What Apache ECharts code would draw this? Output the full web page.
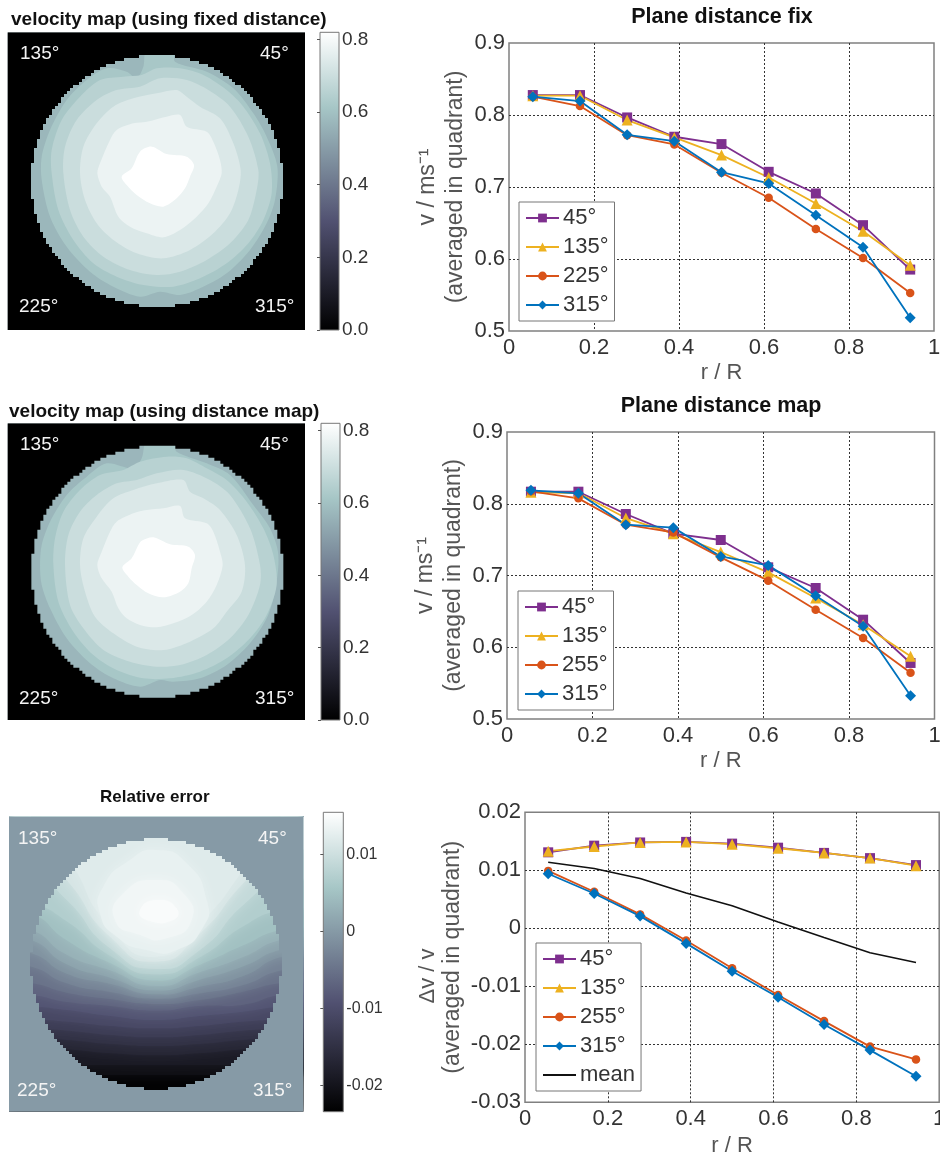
<!DOCTYPE html>
<html><head><meta charset="utf-8">
<style>html,body{margin:0;padding:0;background:#fff}#c{width:940px;height:1158px}</style>
<script src="https://cdn.jsdelivr.net/npm/echarts@6/dist/echarts.min.js"></script>
</head><body><div id="c"></div>
<script>
// ---------- line chart data ----------
const rR = [0.056,0.167,0.278,0.389,0.5,0.611,0.722,0.833,0.944];
const fix45  = [.8277,.8277,.7966,.7698,.7596,.7211,.691,.647,.5853];
const fix135 = [.8268,.8268,.793,.7688,.7443,.7132,.677,.6386,.5913];
const fix225 = [.8254,.8124,.772,.7591,.7197,.685,.6418,.6015,.5528];
const fix315 = [.8254,.8194,.7725,.7637,.7206,.7049,.6608,.6163,.5185];
const map45  = [.8168,.8168,.7857,.7583,.7495,.7114,.6826,.6384,.5781];
const map135 = [.8159,.815,.7801,.7583,.7327,.7044,.6686,.6314,.5873];
const map255 = [.8173,.8075,.7708,.7601,.7253,.6928,.6524,.6129,.5646];
const map315 = [.8187,.8145,.7708,.7667,.7266,.7141,.6719,.6292,.5325];
const err45  = [.0131,.01425,.0148,.0149,.0146,.0139,.013,.0121,.0109];
const err135 = [.0133,.0141,.0148,.0149,.0145,.0138,.013,.0121,.0108];
const err255 = [.0099,.0063,.0024,-.0021,-.0069,-.0115,-.016,-.0204,-.0226];
const err315 = [.0094,.006,.0021,-.0026,-.0074,-.0119,-.0166,-.021,-.0255];
const errMean = [.0114,.0103,.0086,.0061,.0039,.0011,-.0016,-.0042,-.0059];
const legendFix = ['45°','135°','225°','315°'];
const legendMap = ['45°','135°','255°','315°'];
const legendErr = ['45°','135°','255°','315°',{name:'mean',itemStyle:{color:'transparent',borderWidth:0}}];
// ---------- velocity map contours: image coordinates of each iso-velocity outline ----------
const velLevels = [.57,.615,.655,.695,.735,.775,.83];
const fixContours = [
 [[125,540],[125,470],[150,390],[200,300],[260,240],[320,205],[380,215],[410,235],[430,200],[440,150],[520,150],[525,185],[620,215],[700,265],[760,340],[800,410],[832,500],[825,600],[800,670],[750,750],[680,820],[600,865],[540,885],[480,875],[420,890],[340,860],[270,815],[200,740],[150,650]],
 [[155,520],[155,450],[185,360],[240,290],[300,240],[370,230],[425,225],[470,205],[540,205],[610,225],[680,270],[730,320],[780,400],[810,490],[815,580],[790,660],[745,730],[680,790],[600,835],[520,860],[430,855],[350,830],[280,790],[220,720],[175,630]],
 [[190,520],[195,440],[230,360],[290,300],[350,270],[420,260],[480,235],[560,240],[625,270],[690,320],[745,410],[775,510],[770,570],[745,660],[690,730],[620,780],[540,815],[470,825],[390,810],[310,770],[250,710],[210,630]],
 [[240,520],[250,440],[290,370],[340,320],[400,295],[470,280],[530,270],[560,290],[600,320],[660,355],[700,430],[722,510],[715,570],[690,640],[640,700],[570,750],[490,775],[410,760],[340,720],[290,670],[255,600]],
 [[292,520],[300,490],[330,420],[350,390],[400,370],[440,365],[500,350],[540,345],[560,380],[620,395],[640,425],[660,480],[665,520],[650,560],[625,610],[590,650],[540,690],[490,712],[440,700],[390,680],[355,650],[330,590],[305,560]],
 [[365,530],[395,505],[420,455],[455,440],[500,462],[560,470],[582,495],[570,530],[555,565],[530,595],[490,620],[450,610],[410,585],[380,555]]
];
const distContours = [
 [[120,510],[125,450],[150,380],[200,300],[260,245],[320,205],[400,220],[425,190],[440,140],[520,140],[530,170],[620,205],[690,240],[760,330],[810,400],[835,480],[825,590],[800,670],[750,745],[680,810],[600,850],[520,860],[480,855],[420,875],[340,850],[270,805],[200,730],[150,640],[125,570]],
 [[160,510],[165,430],[190,350],[240,285],[300,240],[370,225],[420,200],[500,185],[560,190],[620,220],[680,255],[740,320],[790,400],[820,480],[830,570],[800,660],[750,730],[680,790],[600,830],[510,850],[430,850],[350,825],[280,780],[220,710],[175,620]],
 [[195,510],[205,420],[240,350],[290,300],[350,265],[410,255],[470,235],[550,225],[630,255],[690,300],[750,400],[780,510],[780,570],[745,660],[690,730],[620,780],[540,810],[470,815],[390,800],[310,765],[250,700],[210,630]],
 [[240,510],[250,430],[290,365],[340,310],[400,285],[470,265],[550,255],[570,290],[610,310],[660,345],[710,420],[735,510],[725,590],[680,650],[640,700],[570,740],[490,765],[410,755],[340,715],[285,665],[255,590]],
 [[292,510],[305,470],[330,410],[350,380],[400,355],[440,345],[490,340],[540,333],[555,370],[620,385],[640,410],[660,470],[668,510],[650,570],[620,620],[575,660],[520,685],[470,697],[420,690],[380,670],[355,640],[335,590],[305,550]],
 [[367,517],[395,490],[415,450],[425,437],[460,427],[510,448],[565,455],[585,480],[575,520],[565,565],[540,590],[490,607],[445,595],[410,570],[385,545]]
];
// ---------- relative error contours: lower edge of "value >= level", read at errCols ----------
const errCols = [95,200,330,468,600,730,840];
const errLevels = [-.021,-.019,-.017,-.015,-.013,-.011,-.009,-.007,-.005,-.003,-.001,.001,.003,.005,.007,.009,.011,.012];
const errEdges = [
 [885,885,885,885,885,885,885],[855,855,855,855,855,855,855],[800,808,820,826,820,808,800],[775,780,792,798,792,780,775],
 [748,752,765,772,765,752,748],[720,725,738,745,738,725,720],[680,690,708,720,708,695,680],[645,666,678,692,678,674,645],
 [610,638,657,672,660,635,610],[560,610,636,656,640,615,572],[520,581,611,643,620,588,532],[480,553,593,631,599,559,510],
 [450,524,571,618,577,531,480],[400,481,549,601,554,496,450],[370,424,527,583,532,439,390],[280,360,505,567,510,375,300],
 [200,300,470,545,460,310,210],[110,230,440,530,430,270,110]
];
const errBlobLevels = [.013,.014,.0148];
const errBlobs = [
 [[300,400],[310,320],[390,240],[470,210],[560,250],[620,360],[610,440],[530,510],[440,510],[350,470]],
 [[345,420],[370,340],[470,300],[550,340],[575,420],[500,475],[420,465]],
 [[420,390],[470,360],[530,385],[520,420],[440,420]]
];
// ---------- colour bars ----------
const velTicks = [0,.2,.4,.6,.8];
const errTicks = [-.02,-.01,0,.01];
const boneStops = [[0,[0,0,0]],[.365,[81,81,113]],[.746,[166,198,198]],[1,[255,255,255]]];

function bone(t){
  t=Math.max(0,Math.min(1,t));
  for(let i=1;i<boneStops.length;i++){
    if(t<=boneStops[i][0]){
      const a=boneStops[i-1],b=boneStops[i],f=(t-a[0])/(b[0]-a[0]);
      return 'rgb('+a[1].map((c,k)=>Math.round(c+(b[1][k]-c)*f)).join(',')+')';
    }
  }
  return '#fff';
}
const boneGradient=()=>new echarts.graphic.LinearGradient(0,1,0,0,boneStops.map(s=>({offset:s[0],color:'rgb('+s[1].join(',')+')'})));

function stairOutline(cx,cy,R,cell){
  const left=[],right=[];
  const n=Math.round(R/cell);
  for(let k=-n;k<n;k++){
    const ya=cy+k*cell,yb=ya+cell,dy=Math.min(Math.abs(k),Math.abs(k+1))*cell+cell/2;
    const hw=Math.round(Math.sqrt(Math.max(0,R*R-dy*dy))/cell)*cell;
    left.push([cx-hw,ya],[cx-hw,yb]);
    right.unshift([cx+hw,yb],[cx+hw,ya]);
  }
  return left.concat(right);
}
function maskPoly(x0,x1,y0,y1,out){
  return [[x0,y0],[x1,y0],[x1,y1],[x0,y1],[x0,y0]].concat(out,[out[0],[x0,y0]]);
}

const FONT='"Liberation Sans",Arial,sans-serif';
const LABEL='#333', NAME='#555';
const colors={a:'#7E2F8E',b:'#EDB120',c:'#D95319',d:'#0072BD'};
const grids=[],xAxes=[],yAxes=[],series=[],legends=[],titles=[],graphics=[];

function lineChart(box,yMin,yMax,yInt,yFmt,yNames,gap,sets,legendNames,legBox,ttl){
  const g=grids.length;
  grids.push({left:box[0],top:box[1],width:box[2],height:box[3],show:true,borderColor:'#808080',borderWidth:1.5,backgroundColor:'#fff',outerBoundsMode:'none'});
  xAxes.push({gridIndex:g,type:'value',min:0,max:1,interval:.2,name:'r / R',nameLocation:'middle',nameGap:box[4]||31,
    nameTextStyle:{fontFamily:FONT,fontSize:22,color:NAME},
    axisLine:{show:false},axisTick:{show:false},
    axisLabel:{fontFamily:FONT,fontSize:22,color:LABEL,margin:6,formatter:v=>String(+v.toFixed(1))},
    splitLine:{show:true,showMinLine:false,showMaxLine:false,lineStyle:{color:'#333',type:[2,2],width:1}}});
  yAxes.push({gridIndex:g,type:'value',min:yMin,max:yMax,interval:yInt,name:yNames,nameLocation:'middle',nameGap:gap,nameRotate:90,
    nameTextStyle:{fontFamily:FONT,fontSize:23,color:NAME,lineHeight:28},
    axisLine:{show:false},axisTick:{show:false},
    axisLabel:{fontFamily:FONT,fontSize:22,color:LABEL,margin:4,formatter:yFmt},
    splitLine:{show:true,showMinLine:false,showMaxLine:false,lineStyle:{color:'#333',type:[2,2],width:1}}});
  sets.forEach(s=>series.push({type:'line',name:s.name,xAxisIndex:g,yAxisIndex:g,data:rR.map((x,i)=>[x,s.data[i]]),
    showSymbol:!!s.size,symbol:s.symbol,symbolSize:s.size||1,animation:false,
    lineStyle:{color:s.color,width:s.width||1.8},itemStyle:{color:s.color},z:5}));
  legends.push({data:legendNames,left:legBox[0],top:legBox[1],orient:'vertical',backgroundColor:'#fff',borderColor:'#777',borderWidth:1,
    padding:[5,6,5,6],itemWidth:33,itemHeight:11,itemGap:7,selectedMode:false,
    textStyle:{fontFamily:FONT,fontSize:22,color:LABEL,padding:[0,0,0,-1]},z:10});
  titles.push(ttl);
}
const sets=(a,b,c,d,n)=>[
 {name:'45°',data:a,color:colors.a,symbol:'rect',size:10},
 {name:'135°',data:b,color:colors.b,symbol:'triangle',size:11},
 {name:n,data:c,color:colors.c,symbol:'circle',size:8.5},
 {name:'315°',data:d,color:colors.d,symbol:'diamond',size:11}];

lineChart([509,43,425,288],.5,.9,.1,v=>v.toFixed(1),'v / ms⁻¹\n(averaged in quadrant)',39,sets(fix45,fix135,fix225,fix315,'225°'),legendFix,[519,202],
 {text:'Plane distance fix',left:717,top:1,textAlign:'center',textStyle:{fontFamily:FONT,fontSize:21.5,fontWeight:'bold',color:'#111'}});
lineChart([507,432,427.5,287],.5,.9,.1,v=>v.toFixed(1),'v / ms⁻¹\n(averaged in quadrant)',39,sets(map45,map135,map255,map315,'255°'),legendMap,[518,591],
 {text:'Plane distance map',left:716,top:390,textAlign:'center',textStyle:{fontFamily:FONT,fontSize:21.5,fontWeight:'bold',color:'#111'}});
lineChart([525,812.3,414.2,290,33],-.03,.02,.01,v=>(Math.abs(v)<1e-9?'0':String(+v.toFixed(2))),'(averaged in quadrant)',57,
 sets(err45,err135,err255,err315,'255°').concat([{name:'mean',data:errMean,color:'#111',width:1.6,symbol:'circle'}]),legendErr,[536,943],null);
graphics.push({type:'text',x:428,y:976,rotation:Math.PI/2,style:{text:'Δv / v',font:'22px '+FONT,fill:NAME,textAlign:'center',textVerticalAlign:'middle'}});

function mapChart(box,ext,bands,levels,cmin,cmax,mask,blur,baseLevel,smooth){
  const g=grids.length;
  grids.push({left:box[0],top:box[1],width:box[2],height:box[3],outerBoundsMode:'none'});
  xAxes.push({gridIndex:g,type:'value',min:ext[0],max:ext[1],show:false,splitLine:{show:false}});
  yAxes.push({gridIndex:g,type:'value',min:ext[2],max:ext[3],inverse:true,show:false,splitLine:{show:false}});
  const rect=[[ext[0],ext[2]],[ext[1],ext[2]],[ext[1],ext[3]],[ext[0],ext[3]]];
  const polys=[{pts:rect,level:baseLevel,sharp:true}].concat(bands.map((p,i)=>({pts:p,level:levels[i]})));
  polys.push({pts:mask.poly,fill:mask.fill,sharp:true});
  series.push({type:'custom',xAxisIndex:g,yAxisIndex:g,silent:true,animation:false,clip:true,
    data:polys.map(p=>[p.pts[0][0],p.pts[0][1],p.level==null?0:p.level]),
    renderItem:(params,api)=>{
      const p=polys[params.dataIndex];
      const fill=p.fill||bone((p.level-cmin)/(cmax-cmin));
      const style={fill};
      if(blur&&!p.fill){style.shadowBlur=blur;style.shadowColor=fill;}
      return {type:'polygon',shape:{points:p.pts.map(q=>api.coord(q)),smooth:p.sharp?0:smooth},style};
    }});
}
function colorBar(box,cmin,cmax,ticks,fmt,fs){
  const g=grids.length;
  grids.push({left:box[0],top:box[1],width:box[2],height:box[3],outerBoundsMode:'none'});
  xAxes.push({gridIndex:g,type:'value',min:0,max:1,show:false,splitLine:{show:false}});
  yAxes.push({gridIndex:g,type:'value',min:cmin,max:cmax,position:'right',z:6,
    axisLine:{show:false},splitLine:{show:false},
    axisTick:{show:true,inside:true,length:3,customValues:ticks,lineStyle:{color:'#555'}},
    axisLabel:{show:true,customValues:ticks,formatter:fmt,fontFamily:FONT,fontSize:fs,color:LABEL,margin:3,showMinLabel:true,showMaxLabel:true}});
  series.push({type:'custom',xAxisIndex:g,yAxisIndex:g,silent:true,animation:false,data:[[0,cmin,1,cmax]],
    renderItem:(params,api)=>{
      const a=api.coord([0,cmax]),b=api.coord([1,cmin]);
      return {type:'rect',shape:{x:a[0],y:a[1],width:b[0]-a[0],height:b[1]-a[1]},style:{fill:boneGradient(),stroke:'#777',lineWidth:1}};
    }});
}

// map 1
mapChart([7.7,32.3,297.3,297.7],[23,915,97,990],fixContours,velLevels.slice(1),0,.8192,
 {poly:maskPoly(23,915,97,990,stairOutline(471,543,377,9)),fill:'#000'},0,velLevels[0],.3);
colorBar([320,32.3,19,297.7],0,.8192,velTicks,v=>v.toFixed(1),19);
// map 2
mapChart([7.7,423.3,297.3,296.7],[23,915,85,975],distContours,velLevels.slice(1),0,.82,
 {poly:maskPoly(23,915,85,975,stairOutline(472,530,377,9)),fill:'#000'},0,velLevels[0],.3);
colorBar([321,423.3,19,296.7],0,.82,velTicks,v=>v.toFixed(1),19);
// map 3
const errBands=errEdges.map(ed=>[[errCols[0]-70,110]].concat([[errCols[0]-70,ed[0]]],errCols.map((x,i)=>[x,ed[i]]),[[errCols[6]+70,ed[6]],[errCols[6]+70,110]]));
const errCmin=-.0234,errCmax=.0155;
const bg3=bone((0-errCmin)/(errCmax-errCmin));
mapChart([9,816.7,294.3,295],[27,910,110,995],errBands.concat(errBlobs),errLevels.concat(errBlobLevels),errCmin,errCmax,
 {poly:maskPoly(27,910,110,995,stairOutline(468,552,375,9)),fill:bg3},14,-.0232,.6);
colorBar([323.3,812.3,20,299.4],errCmin,errCmax,errTicks,v=>(Math.abs(v)<1e-9?'0':String(+v.toFixed(2))),16);

// titles & corner labels
[
 {text:'velocity map (using fixed distance)',left:6,top:5.5,textStyle:{fontSize:19}},
 {text:'velocity map (using distance map)',left:4,top:397.5,textStyle:{fontSize:19}},
 {text:'Relative error',left:95,top:783.5,textStyle:{fontSize:17}}
].forEach(t=>{t.textStyle=Object.assign({fontFamily:FONT,fontWeight:'bold',color:'#111'},t.textStyle);titles.push(t);});
const corner=(s,x,y,fill)=>graphics.push({type:'text',x,y,z:20,style:{text:s,font:'19px '+FONT,fill:fill||'#f4f4f4',textVerticalAlign:'middle'}});
corner('135°',20,54);corner('45°',260,54);corner('225°',19,307);corner('315°',255,307);
corner('135°',20,445);corner('45°',260,445);corner('225°',19,699);corner('315°',255,699);
corner('135°',18,839);corner('45°',258,839);corner('225°',17,1091);corner('315°',253,1091);

const chart=echarts.init(document.getElementById('c'),null,{renderer:'canvas'});
chart.setOption({animation:false,backgroundColor:'#fff',title:titles.filter(Boolean),grid:grids,xAxis:xAxes,yAxis:yAxes,legend:legends,series,graphic:graphics,tooltip:{show:false}});
</script></body></html>
